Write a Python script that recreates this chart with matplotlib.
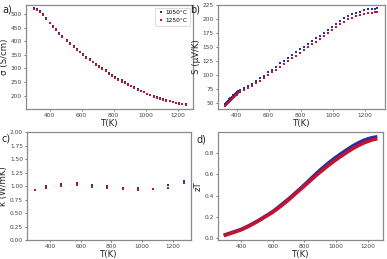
import matplotlib
matplotlib.use("Agg")
import matplotlib.pyplot as plt

# ---- data ----
labels = ["1050°C", "1250°C"]

T_sigma = [300, 320, 340, 360, 380, 400, 420, 440, 460, 480, 510, 530, 550, 570, 590,
           610, 630, 650, 670, 690, 710, 730, 750, 770, 790, 810, 830, 850, 870, 890,
           910, 930, 950, 970, 990, 1010, 1030, 1050, 1070, 1090, 1110, 1130, 1150,
           1170, 1190, 1210, 1230, 1250]
sigma_1050 = [522, 517, 510, 498, 484, 467, 455, 443, 431, 419, 403, 392, 382, 372, 362,
              353, 343, 334, 325, 317, 309, 301, 293, 285, 277, 270, 263, 256, 249, 243,
              237, 231, 225, 219, 213, 208, 203, 198, 194, 190, 186, 183, 180,
              177, 174, 172, 170, 168]
sigma_1250 = [518, 514, 507, 496, 482, 465, 452, 440, 428, 416, 400, 389, 379, 369, 359,
              350, 340, 331, 322, 314, 305, 297, 289, 281, 273, 266, 259, 252, 246, 240,
              234, 228, 222, 217, 212, 207, 202, 197, 193, 189, 185, 182, 179,
              176, 173, 171, 169, 167]

T_S = [330, 335, 340, 345, 350, 355, 360, 365, 370, 375, 380, 385, 390, 395, 400,
       405, 410, 420, 445, 470, 495, 520, 545, 570, 595, 620, 645, 670, 695, 720,
       745, 770, 795, 820, 845, 870, 895, 920, 945, 970, 995, 1020, 1045, 1070,
       1095, 1120, 1145, 1170, 1195, 1220, 1245, 1265, 1275, 1280]
S_1050 = [48, 50, 52, 53.5, 55, 56.5, 58, 59.5, 61, 62.5, 64, 65, 66.5, 67.5, 69,
          70, 71, 73, 76, 80, 84, 89, 94, 99, 105, 110, 115, 121, 126, 131,
          136, 141, 146, 151, 156, 161, 166, 171, 176, 181, 187, 192, 197, 202,
          206, 209, 212, 214, 216, 218, 219, 219.5, 220, 220]
S_1250 = [44, 46, 48, 49.5, 51, 52.5, 54, 55.5, 57, 58.5, 60, 61, 62.5, 63.5, 65,
          66, 67, 69.5, 73, 77, 81, 85, 90, 95, 100, 105, 110, 115, 120, 125,
          130, 135, 140, 145, 150, 155, 160, 165, 170, 175, 181, 186, 191, 196,
          200, 203, 206, 208, 210, 211, 212, 212.5, 213, 213]

T_kappa = [298, 373, 473, 573, 673, 773, 873, 973, 1073, 1173, 1273]
kappa_1050 = [0.93, 1.00, 1.04, 1.05, 1.02, 1.00, 0.97, 0.96, 0.95, 1.02, 1.09]
kappa_1250 = [0.92, 0.97, 1.01, 1.02, 0.99, 0.97, 0.94, 0.93, 0.94, 0.97, 1.05]

T_zT = [300, 325, 350, 375, 400, 425, 450, 475, 500, 525, 550, 575, 600, 625, 650,
        675, 700, 725, 750, 775, 800, 825, 850, 875, 900, 925, 950, 975, 1000, 1025,
        1050, 1075, 1100, 1125, 1150, 1175, 1200, 1225, 1250]
zT_1050 = [0.035, 0.047, 0.060, 0.072, 0.085, 0.102, 0.120, 0.140, 0.160, 0.182, 0.205,
           0.228, 0.252, 0.280, 0.310, 0.340, 0.370, 0.402, 0.435, 0.468, 0.502, 0.537,
           0.572, 0.607, 0.641, 0.672, 0.703, 0.732, 0.760, 0.786, 0.811, 0.836, 0.860,
           0.881, 0.900, 0.917, 0.930, 0.941, 0.948]
zT_1250 = [0.030, 0.042, 0.055, 0.067, 0.080, 0.097, 0.115, 0.135, 0.155, 0.177, 0.200,
           0.222, 0.245, 0.272, 0.300, 0.330, 0.360, 0.393, 0.426, 0.458, 0.490, 0.523,
           0.556, 0.589, 0.620, 0.650, 0.680, 0.708, 0.735, 0.761, 0.786, 0.811, 0.834,
           0.855, 0.874, 0.892, 0.906, 0.919, 0.928]

# ---- style ----
blue = "#2b2f9c"
red = "#c41230"
spine_c = "#8a8a8a"
ms = 1.7
lab_fs = 6.2

fig = plt.figure(figsize=(3.87, 2.59), dpi=100)
ax_a = fig.add_axes([0.067, 0.579, 0.432, 0.402])
ax_b = fig.add_axes([0.563, 0.579, 0.432, 0.402])
ax_c = fig.add_axes([0.070, 0.073, 0.424, 0.417])
ax_d = fig.add_axes([0.563, 0.073, 0.427, 0.417])

def style(ax):
    for s in ax.spines.values():
        s.set_color(spine_c)
        s.set_linewidth(0.9)
    ax.tick_params(labelsize=4.2, length=1.5, width=0.5, colors="#444444", pad=1.5)
    ax.set_xlabel("T(K)", fontsize=lab_fs, labelpad=0.5, color="#222222")

# a
ax_a.plot(T_sigma, sigma_1050, 's', color=blue, ms=ms, mew=0, label=labels[0])
ax_a.plot(T_sigma, sigma_1250, 's', color=red, ms=ms, mew=0, label=labels[1])
ax_a.set_ylabel("σ (S/cm)", fontsize=lab_fs, labelpad=1, color="#222222")
ax_a.set_yticks([200, 250, 300, 350, 400, 450, 500])
ax_a.set_xticks([400, 600, 800, 1000, 1200])
ax_a.set_ylim(151, 533)
leg = ax_a.legend(loc="upper right", fontsize=4.2, markerscale=1.2, handletextpad=0.2,
                  borderpad=0.4, labelspacing=0.5, handlelength=1.2, framealpha=1)
leg.get_frame().set_linewidth(0.5)
style(ax_a)

# b
ax_b.plot(T_S, S_1050, 's', color=blue, ms=ms, mew=0)
ax_b.plot(T_S, S_1250, 's', color=red, ms=ms, mew=0)
ax_b.set_ylabel("S (μV/K)", fontsize=lab_fs, labelpad=1, color="#222222")
ax_b.set_yticks([50, 75, 100, 125, 150, 175, 200, 225])
ax_b.set_ylim(39, 226)
ax_b.set_xticks([400, 600, 800, 1000, 1200])
style(ax_b)

# c
ax_c.plot(T_kappa, kappa_1050, 's', color=blue, ms=ms, mew=0)
ax_c.plot(T_kappa, kappa_1250, 's', color=red, ms=ms, mew=0)
ax_c.set_ylabel("κ (W/mK)", fontsize=lab_fs, labelpad=1, color="#222222")
ax_c.set_ylim(0, 2.0)
ax_c.set_yticks([0, 0.25, 0.5, 0.75, 1.0, 1.25, 1.5, 1.75, 2.0])
ax_c.set_yticklabels(["0.00", "0.25", "0.50", "0.75", "1.00", "1.25", "1.50", "1.75", "2.00"])
ax_c.set_xticks([400, 600, 800, 1000, 1200])
style(ax_c)

# d
ax_d.plot(T_zT, zT_1050, '-s', color=blue, lw=2.5, ms=ms, mew=0)
ax_d.plot(T_zT, zT_1250, '-s', color=red, lw=2.5, ms=ms, mew=0)
ax_d.set_ylabel("zT", fontsize=lab_fs, labelpad=1, color="#222222")
ax_d.set_yticks([0.0, 0.2, 0.4, 0.6, 0.8])
ax_d.set_xticks([400, 600, 800, 1000, 1200])
style(ax_d)

fig.text(0.005, 0.952, "a)", fontsize=7, color="#222222")
fig.text(0.492, 0.952, "b)", fontsize=7, color="#222222")
fig.text(0.005, 0.455, "c)", fontsize=7, color="#222222")
fig.text(0.508, 0.45, "d)", fontsize=7, color="#222222")

fig.savefig("out.png", dpi=100)
